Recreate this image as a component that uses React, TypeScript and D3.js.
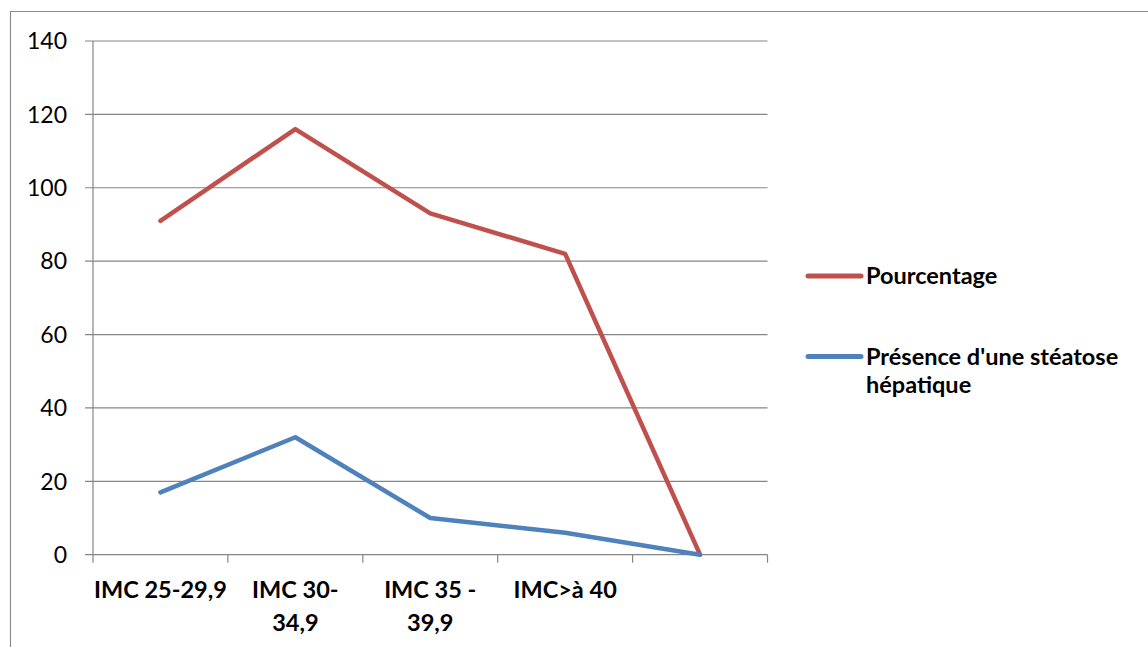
import React from "react";
import * as d3 from "d3";

// IMC categories (the fifth slot is an unlabelled category)
const categories = ["IMC 25-29,9", "IMC 30-34,9", "IMC 35 -39,9", "IMC>à 40", ""];
const categoryLines = [["IMC 25-29,9"], ["IMC 30-", "34,9"], ["IMC 35 -", "39,9"], ["IMC>à 40"], []];
const pourcentage = [91, 116, 93, 82, 0];
const steatose = [17, 32, 10, 6, 0];
const yTicks = [0, 20, 40, 60, 80, 100, 120, 140];
const seriesNames = ["Pourcentage", "Présence d'une stéatose", "hépatique"];

const W = 1148;
const H = 647;
const FONT = "Lato, 'Open Sans', sans-serif";
const RED = "#C0504D";
const BLUE = "#4F81BD";
const GRID = "#868686";

export default function App() {
  const left = 93;
  const right = 767.5;
  const top = 41;
  const bottom = 554.7;

  const x = d3.scaleBand<string>().domain(categories.map((c, i) => String(i))).range([left, right]).padding(0);
  const y = d3.scaleLinear().domain([0, 140]).range([bottom, top]);

  const cx = (i: number) => (x(String(i)) as number) + x.bandwidth() / 2;
  const line = d3
    .line<number>()
    .x((_, i) => cx(i))
    .y((d) => y(d));

  const bandEdges = categories.map((_, i) => x(String(i)) as number).concat([right]);

  return (
    <svg
      width={W}
      height={H}
      style={{ position: "absolute", left: 0, top: 0, background: "#fff" }}
      fontFamily={FONT}
    >
      {/* outer chart frame */}
      <path d={`M10.5,${H} V11.5 H${W}`} fill="none" stroke="#8c8c8c" strokeWidth={1.2} />

      {/* horizontal gridlines + y tick labels */}
      {yTicks.map((t) => (
        <g key={t}>
          <line x1={85} x2={right} y1={y(t)} y2={y(t)} stroke={GRID} strokeWidth={1.2} />
          <text x={67} y={y(t)} dy="0.36em" textAnchor="end" fontSize={23} fill="#000">
            {t}
          </text>
        </g>
      ))}

      {/* y axis */}
      <line x1={left} x2={left} y1={top} y2={bottom} stroke={GRID} strokeWidth={1.2} />

      {/* category tick marks */}
      {bandEdges.map((e, i) => (
        <line key={i} x1={e} x2={e} y1={bottom} y2={bottom + 8} stroke={GRID} strokeWidth={1.2} />
      ))}

      {/* category labels */}
      {categoryLines.map((lines, i) => (
        <text key={i} x={cx(i)} textAnchor="middle" fontSize={23.5} fontWeight="bold" fill="#000">
          {lines.map((l, j) => (
            <tspan key={j} x={cx(i)} y={597.5 + j * 33}>
              {l}
            </tspan>
          ))}
        </text>
      ))}

      {/* series lines */}
      <path d={line(pourcentage) || ""} fill="none" stroke={RED} strokeWidth={4.5} strokeLinejoin="round" strokeLinecap="round" />
      <path d={line(steatose) || ""} fill="none" stroke={BLUE} strokeWidth={4.5} strokeLinejoin="round" strokeLinecap="round" />

      {/* legend */}
      <line x1={808} x2={861} y1={276} y2={276} stroke={RED} strokeWidth={5} strokeLinecap="round" />
      <text x={866} y={284} fontSize={23.5} fontWeight="bold" fill="#000">
        {seriesNames[0]}
      </text>
      <line x1={808} x2={861} y1={356.5} y2={356.5} stroke={BLUE} strokeWidth={5} strokeLinecap="round" />
      <text x={866} fontSize={23.5} fontWeight="bold" fill="#000">
        <tspan x={866} y={365}>{seriesNames[1]}</tspan>
        <tspan x={866} y={393}>{seriesNames[2]}</tspan>
      </text>
    </svg>
  );
}
